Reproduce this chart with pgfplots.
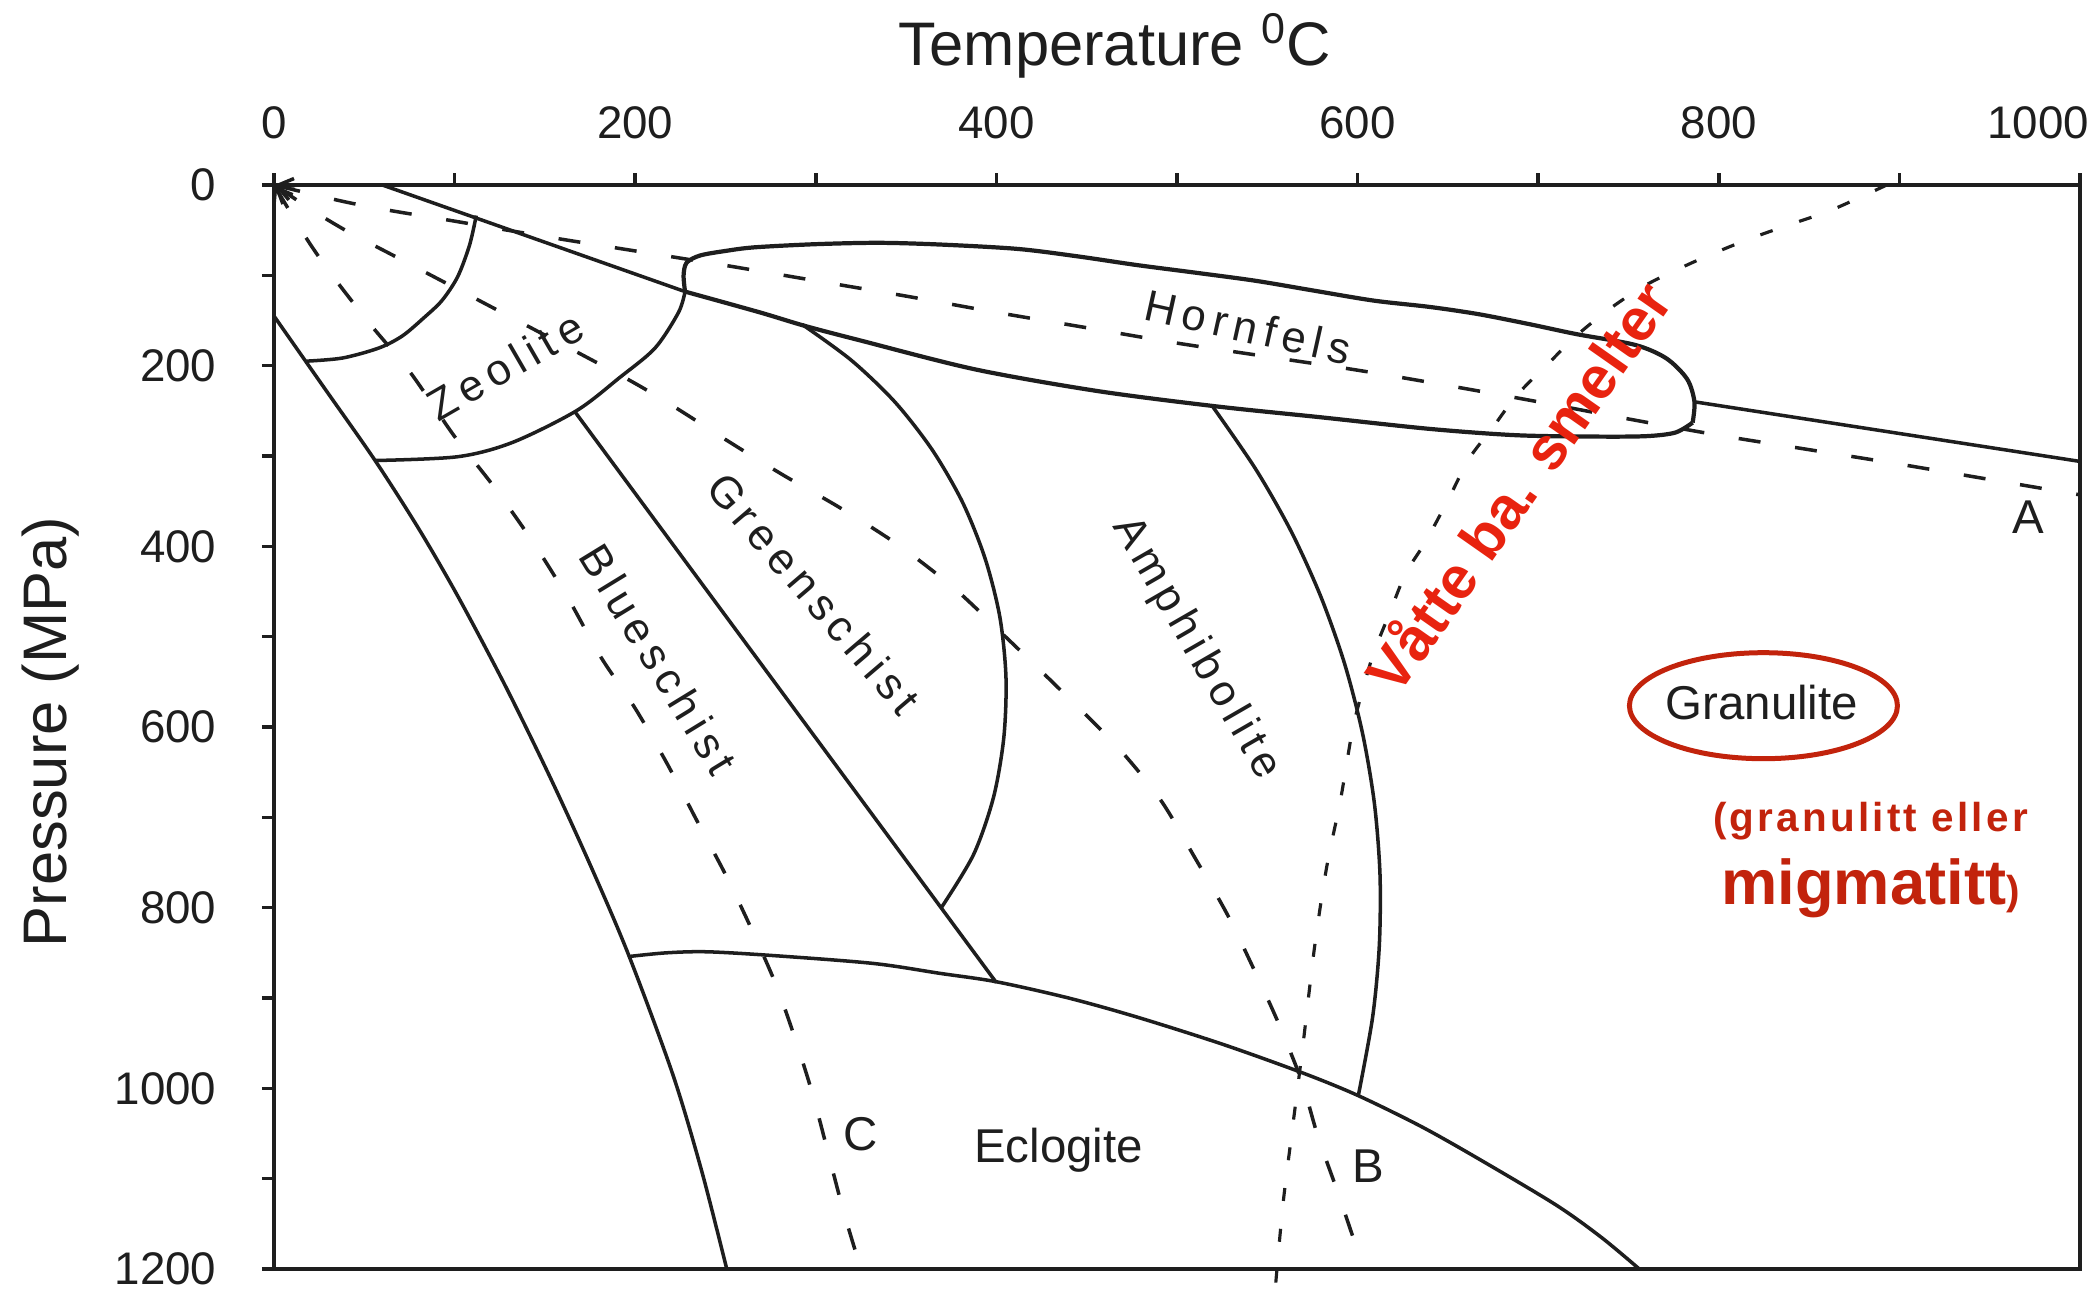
\documentclass[border=0pt]{standalone}
\usepackage{pgfplots}
\pgfplotsset{compat=1.18}
\usepackage{fontspec}
\setmainfont{Liberation Sans}
\newfontfamily\spaced[LetterSpace=15]{Liberation Sans}
\newfontfamily\redsp[LetterSpace=8]{Liberation Sans}
\usetikzlibrary{shapes.geometric,arrows.meta}
\definecolor{brightred}{HTML}{E8230F}
\definecolor{darkred}{HTML}{C2230C}
\definecolor{ink}{HTML}{1E1E1E}
\tikzset{
  sol/.style={ink, line width=1pt},
  solb/.style={ink, line width=1.2pt},
  dsh/.style={ink, line width=1pt, dash pattern=on 2.2mm off 3.5mm},
  dtt/.style={ink, line width=0.9pt, dash pattern=on 1.3mm off 2.8mm},
  lab/.style={ink, font=\spaced\fontsize{12.5}{14}\selectfont},
  labh/.style={ink, font=\fontsize{13.5}{15}\selectfont, anchor=base},
}
\begin{document}
\begin{tikzpicture}
\begin{axis}[
  scale only axis, width=180.6mm, height=108.4mm,
  xmin=0, xmax=1000, ymin=0, ymax=1200, y dir=reverse,
  clip=false,
  axis line style={line width=1.3pt, ink},
  tick align=outside,
  major tick length=1.2mm, minor tick length=1.2mm,
  every tick/.style={line width=1pt, ink},
  xtick={0,200,...,1000}, minor xtick={100,300,...,900},
  xticklabels={0,200,400,600,800,\makebox[1.8mm][r]{1000}},
  ytick={0,200,...,1200}, minor ytick={100,300,...,1100},
  yticklabels={0,200,400,600,800,1000,1200},
  xtick pos=right, xticklabel pos=right,
  ytick pos=left, yticklabel pos=left,
  /pgf/number format/assume math mode=true,
  ticklabel style={font=\fontsize{13}{15}\selectfont, text=ink},
  xticklabel style={anchor=base, yshift=3.45mm},
  yticklabel style={anchor=east, inner sep=0pt, xshift=-4.5mm},
]
% main left boundary (zeolite/blueschist low-T limit)
\addplot[sol, smooth] coordinates {(0,145) (28,225) (56,305) (80.3,381) (102.3,457) (128.5,556) (153.7,659) (176.3,758) (196.7,854) (220.9,985) (236.9,1092) (250.7,1200)};
% top line to hornfels cusp
\addplot[sol] coordinates {(60,0) (227.6,118)};
% lower hornfels boundary
\addplot[solb, smooth] coordinates {(227.6,118) (269,141) (294,156) (324.5,172) (388,204) (455.7,228) (521.5,245) (579,257) (640,270) (688,277) (732,278.5) (760,278) (776,274) (785.5,263)};
% upper hornfels boundary and tip
\addplot[solb, smooth] coordinates {(227.6,118) (226.8,100) (228.5,86) (236,78) (250,73) (266,69) (300,65.5) (335,64) (370,66) (412,70.8) (445,79) (477.7,88.6) (510,97) (543.4,106) (576,117) (609,128) (640,135) (667,143) (695,154) (721,165) (753.6,177) (771,192) (782.5,215) (786.5,240) (785.5,263)};
% line from hornfels tip to right edge
\addplot[sol] coordinates {(786.5,240) (1000,306)};
% small zeolite arc
\addplot[sol, smooth] coordinates {(112,33.8) (108.3,66.5) (101.7,101.6) (93,127.9) (83,147) (71,167.2) (58,180.5) (38,191.5) (18,195)};
% large zeolite arc
\addplot[sol, smooth] coordinates {(227.6,118) (224,141) (211,180.5) (191.5,213) (167.4,250) (132,285) (101.7,300.8) (56,305)};
% blueschist / greenschist line
\addplot[sol] coordinates {(167,252) (400,883)};
% greenschist / amphibolite arc
\addplot[sol, smooth] coordinates {(292.5,154.4) (319.6,193.9) (343.8,240.2) (364.4,293.0) (381.2,351.0) (393.7,413.2) (401.9,478.1) (405.3,544.8) (404.1,611.8) (398.4,677.8) (387.3,741.4) (369.5,800)};
% amphibolite / granulite arc
\addplot[sol, smooth] coordinates {(519.3,244) (543.6,314.6) (563.2,383.4) (579.6,455.5) (592.8,530) (602.7,606.7) (609.3,684.6) (612.4,763.5) (612.0,842.6) (608.3,921.3) (600.3,1009)};
% eclogite boundary
\addplot[sol, smooth] coordinates {(196.7,854) (217,850) (239.6,848.8) (276.5,853) (331.8,861.7) (368.8,872.7) (400,882) (440,900) (477.7,921) (525,951) (569.7,983) (600.3,1008) (635,1042) (667,1078) (709.8,1129) (735,1165) (756,1200)};
% geotherm A
\addplot[dsh, smooth, {Straight Barb[length=1.5mm,width=2.2mm]}-] coordinates {(0,0) (50,23) (100,40) (150,57) (200,73) (250,89) (300,106) (350,123) (400,141) (450,158) (500,175) (550,190) (600,205) (650,222) (700,240) (750,259) (800,277) (850,293) (900,309) (950,326) (1000,343)};
% geotherm B
\addplot[dsh, smooth, {Straight Barb[length=1.5mm,width=2.2mm]}-] coordinates {(0,0) (36,46) (68,80) (128,143) (194,213) (222,246) (251,283) (281,320) (314,358) (346,399) (377,447) (405,500) (436,560) (467,622) (491,681) (510,745) (528,808) (543,870) (556,927) (569,992) (578,1053) (589,1115) (600,1180) (603,1200)};
% geotherm C
\addplot[dsh, smooth, {Straight Barb[length=1.5mm,width=2.2mm]}-] coordinates {(0,0) (25,80) (51.4,149.5) (75.3,207) (99.5,277) (121.4,333) (143.3,395) (163,458) (180.5,521) (200.2,580) (217.8,641) (234,703) (250.7,766) (265.4,828) (278.3,887) (289.4,950) (298.6,1009) (306.9,1072) (315.2,1135) (324.5,1197) (325,1200)};
% wet basalt melting curve
\addplot[dtt, smooth] coordinates {(893,0) (863.2,27) (841.3,42.5) (819.4,57.8) (797.5,75.3) (777.8,92.8) (758,112.5) (738.4,138.8) (720.9,167.3) (705.5,197.8) (688,233) (675,268) (661.7,303) (650.6,346.5) (637.6,395) (626.6,430) (617.8,473.6) (609,517.5) (602.5,561) (597,605) (590.5,681) (582.8,755.8) (576.2,843) (569.7,952.7) (564.2,1040) (558.7,1128) (554.4,1222)};
% labels
\node[lab, rotate=30] at (axis cs:128,200) {Zeolite};
\node[lab, rotate=-12.5] at (axis cs:539.5,157) {Hornfels};
\node[lab, rotate=-49.5] at (axis cs:299,452) {Greenschist};
\node[lab, rotate=-58.5] at (axis cs:213,525) {Blueschist};
\node[lab, rotate=-60] at (axis cs:510.5,513) {Amphibolite};
\node[labh] at (axis cs:434.5,1082) {Eclogite};
\node[labh] at (axis cs:823.8,591.8) {Granulite};
\node[labh] at (axis cs:971.5,386) {A};
\node[labh] at (axis cs:605.8,1103.7) {B};
\node[labh] at (axis cs:325,1068.7) {C};
\node[draw=darkred, line width=0.5mm, ellipse, minimum width=26.8mm, minimum height=10.6mm, inner sep=0pt] at (axis cs:824.7,576.4) {};
\node[darkred, anchor=base, font=\redsp\bfseries\fontsize{11.5}{13}\selectfont] at (axis cs:884,716) {(granulitt eller};
\node[darkred, anchor=base, font=\bfseries] at (axis cs:884,797) {{\fontsize{18}{20}\selectfont migmatitt}{\fontsize{11.5}{13}\selectfont )}};
\node[brightred, rotate=55, font=\bfseries\fontsize{17}{19}\selectfont] at (axis cs:688,333) {Våtte ba. smelter};
% axis titles
\node[ink, anchor=base, font=\fontsize{17.5}{20}\selectfont] at (axis cs:465.7,-132) {Temperature \textsuperscript{0}C};
\node[ink, anchor=base, rotate=90, font=\fontsize{17.5}{20}\selectfont] at (axis cs:-114.6,605.6) {Pressure (MPa)};
\coordinate (bbsw) at (axis cs:-151.7,1223.3);
\coordinate (bbne) at (axis cs:1009.4,-204.8);
\end{axis}
\pgfresetboundingbox
\path[use as bounding box] (bbsw) rectangle (bbne);
\end{tikzpicture}
\end{document}
